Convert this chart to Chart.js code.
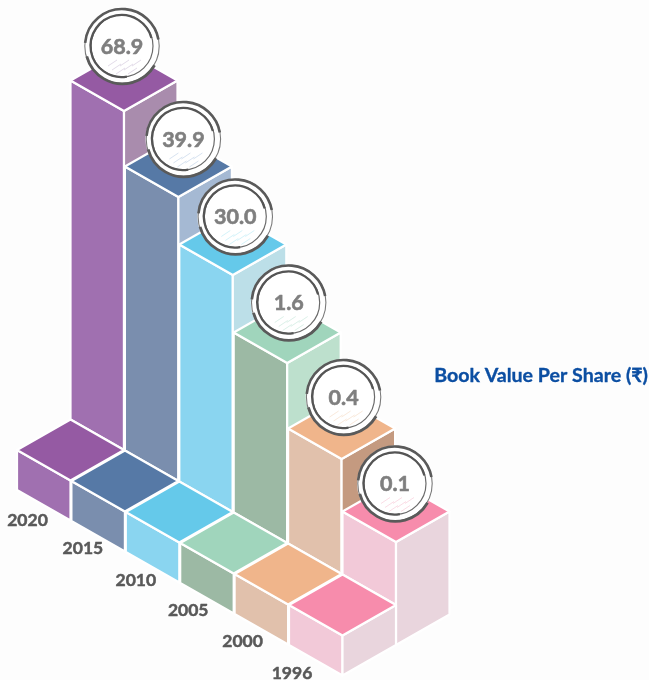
<!DOCTYPE html>
<html><head><meta charset="utf-8">
<style>html,body{margin:0;padding:0;background:#fdfdfd}canvas{display:block}</style>
<script src="https://cdn.jsdelivr.net/npm/chart.js@4"></script></head>
<body><canvas id="c" width="649" height="680"></canvas>
<script>
const years = ['2020','2015','2010','2005','2000','1996'];
const bookValue = [68.9,39.9,30.0,1.6,0.4,0.1];
const valueText = ['68.9','39.9','30.0','1.6','0.4','0.1'];
const seriesName = 'Book Value Per Share (₹)';
const topColors = ['#955aa3','#5679a6','#65c9ea','#a0d5bc','#f0b58b','#f78cac'];
const leftColors = ['#a070b0','#7a8eae','#8ad5f0','#9cb9a4','#e1c1ac','#f2c9d8'];
const rightColors = ['#a98cad','#a5b9d3','#bcdfe8','#bde0cd','#c49a80','#e9d5dd'];
const hatchColors = ['#d5cbe0','#c5d6ea','#c0ecf7','#cbeade','#f6e0cc','#f9cedb'];

// The source graphic's height axis is not linear: value -> pixel height above the plate.
const axisValues = [0,0.1,0.4,1.6,30,39.9,68.9];
const axisHeights = [0,63,115,180,237,284,339];

class PictorialScale extends Chart.LinearScale {
  getPixelForValue(v){
    let h = axisHeights[axisHeights.length-1];
    for(let i=1;i<axisValues.length;i++){
      if(v<=axisValues[i]){
        const t=(v-axisValues[i-1])/(axisValues[i]-axisValues[i-1]);
        h=axisHeights[i-1]+t*(axisHeights[i]-axisHeights[i-1]);break;
      }
    }
    return this.bottom-h;
  }
}
PictorialScale.id='pictorial';
PictorialScale.defaults=Chart.LinearScale.defaults;
Chart.register(PictorialScale);

function poly(ctx,pts,fill){
  ctx.beginPath();
  pts.forEach((p,i)=>i?ctx.lineTo(p[0],p[1]):ctx.moveTo(p[0],p[1]));
  ctx.closePath();
  ctx.fillStyle=fill;ctx.fill();
  ctx.strokeStyle='#ffffff';ctx.lineWidth=2.2;ctx.lineJoin='round';ctx.stroke();
}
function arc(ctx,x,y,r,a,b,w,col){
  ctx.beginPath();ctx.arc(x,y,r,a*Math.PI/180,b*Math.PI/180);
  ctx.lineWidth=w;ctx.strokeStyle=col;ctx.stroke();
}
function heavyText(ctx,text,x,y,col,w){
  ctx.fillStyle=col;ctx.strokeStyle=col;ctx.lineWidth=w;ctx.lineJoin='round';
  ctx.fillText(text,x,y);ctx.strokeText(text,x,y);
}
function badge(ctx,x,y,text,hatch){
  ctx.beginPath();ctx.arc(x,y,38,0,Math.PI*2);ctx.fillStyle='#ffffff';ctx.fill();
  arc(ctx,x,y,37.2,0,360,1.1,'#7a7a7a');
  arc(ctx,x,y,37,185,350,2.6,'#5a5a5a');
  arc(ctx,x+0.5,y+0.8,37,30,165,2.8,'#5a5a5a');
  arc(ctx,x,y,31,0,360,1.2,'#6a6a6a');
  arc(ctx,x-0.5,y,31,80,345,2.3,'#555555');
  ctx.save();ctx.strokeStyle=hatch;ctx.lineWidth=0.7;
  for(let k=0;k<7;k++){
    const s=-14+k*4, t=14+(k%3)*4;
    ctx.beginPath();ctx.moveTo(x+s,y+t+6);ctx.lineTo(x+s+9,y+t);ctx.stroke();
  }
  ctx.restore();
  ctx.font='bold 21.5px Lato, "Open Sans", sans-serif';
  ctx.textAlign='center';ctx.textBaseline='middle';
  heavyText(ctx,text,x,y+1,'#7f7f7f',0.6);
}

const isoPlugin={
  id:'iso',
  beforeDatasetDraw(chart,args){
    const ctx=chart.ctx, els=chart.getDatasetMeta(args.index).data;
    const o=chart.options.plugins.iso;
    const hw=o.halfWidth, hh=o.halfDepth;
    const geo=els.map((el,i)=>{
      const base=o.firstBase+i*o.stepY;
      return {x:el.x,base,top:base-(el.base-el.y),i};
    });
    ctx.save();
    geo.forEach(g=>{
      const {x,top,base,i}=g;
      const last=i===geo.length-1;
      const rBottom=last?base+o.plate:base;
      poly(ctx,[[x-hw,top-hh],[x,top],[x,base],[x-hw,base-hh]],leftColors[i]);
      poly(ctx,[[x,top],[x+hw,top-hh],[x+hw,rBottom-hh],[x,rBottom]],rightColors[i]);
      poly(ctx,[[x-hw,top-hh],[x,top-2*hh],[x+hw,top-hh],[x,top]],topColors[i]);
    });
    geo.forEach(g=>{
      const {x,base,i}=g;
      const cx=x-hw, cy=base;
      const L=[cx-hw,cy],B=[cx,cy-hh],R=[x,cy],F=[cx,cy+hh];
      poly(ctx,[L,F,[F[0],F[1]+o.plate],[L[0],L[1]+o.plate]],leftColors[i]);
      if(i===geo.length-1) poly(ctx,[F,R,[R[0],R[1]+o.plate],[F[0],F[1]+o.plate]],rightColors[i]);
      poly(ctx,[L,B,R,F],topColors[i]);
    });
    geo.forEach(g=>{
      const off=o.badgeOffset[g.i];
      badge(ctx,g.x+off[0],g.top+off[1],valueText[g.i],hatchColors[g.i]);
    });
    ctx.font='bold 17.5px Lato, "Open Sans", sans-serif';
    ctx.textAlign='center';ctx.textBaseline='middle';
    geo.forEach(g=>{
      const off=o.labelOffset[g.i];
      heavyText(ctx,years[g.i],g.x+off[0],g.base+off[1],'#595959',0.5);
    });
    ctx.font='bold 19.6px Lato, "Open Sans", sans-serif';
    ctx.textAlign='right';
    heavyText(ctx,seriesName,648,375.5,'#0b4ea2',0.35);
    ctx.restore();
    return false;
  }
};

new Chart(document.getElementById('c'),{
  type:'bar',
  data:{labels:years,datasets:[{label:seriesName,data:bookValue,backgroundColor:topColors,borderWidth:0}]},
  plugins:[isoPlugin],
  options:{
    responsive:false,animation:false,
    layout:{padding:{left:96.8,right:225.8,top:0,bottom:0}},
    scales:{
      x:{type:'category',display:false},
      y:{type:'pictorial',display:false,min:0,max:70}
    },
    plugins:{
      legend:{display:false},tooltip:{enabled:false},
      iso:{
        halfWidth:53.5,halfDepth:30.5,firstBase:450,stepY:31,plate:40,
        badgeOffset:[[-2,-65],[5,-58],[2.5,-58.5],[1.5,-60.5],[2,-62],[-1,-58.5]],
        labelOffset:[[-96.5,70],[-95.5,67],[-97,68],[-99,67],[-99,67],[-104,68]]
      }
    }
  }
});
</script></body></html>
